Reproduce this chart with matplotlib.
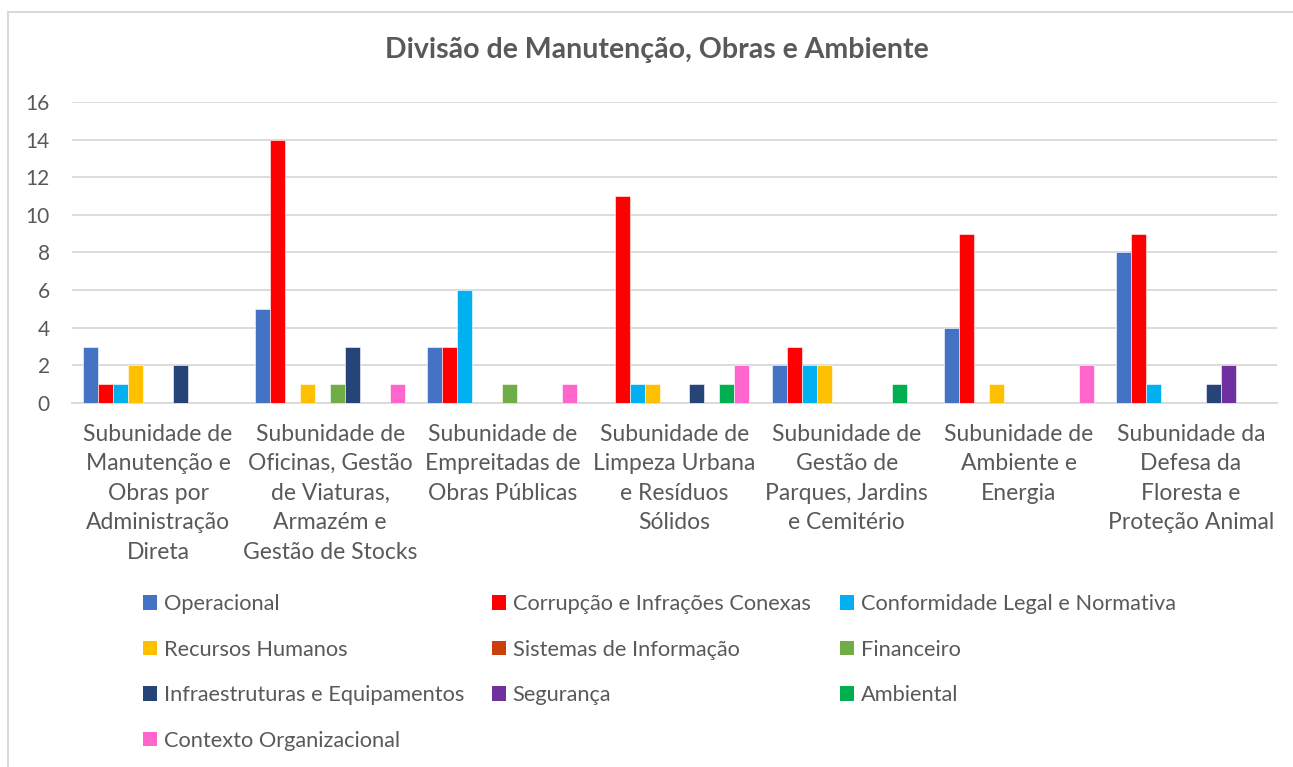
import numpy as np
import matplotlib.pyplot as plt
from matplotlib.patches import Rectangle, Patch

plt.rcParams['font.family'] = ['Lato', 'DejaVu Sans']

categories = [
    "Subunidade de\nManutenção e\nObras por\nAdministração\nDireta",
    "Subunidade de\nOficinas, Gestão\nde Viaturas,\nArmazém e\nGestão de Stocks",
    "Subunidade de\nEmpreitadas de\nObras Públicas",
    "Subunidade de\nLimpeza Urbana\ne Resíduos\nSólidos",
    "Subunidade de\nGestão de\nParques, Jardins\ne Cemitério",
    "Subunidade de\nAmbiente e\nEnergia",
    "Subunidade da\nDefesa da\nFloresta e\nProteção Animal",
]

series_names = [
    "Operacional", "Corrupção e Infrações Conexas", "Conformidade Legal e Normativa",
    "Recursos Humanos", "Sistemas de Informação", "Financeiro",
    "Infraestruturas e Equipamentos", "Segurança", "Ambiental",
    "Contexto Organizacional",
]

operacional = [3, 5, 3, 0, 2, 4, 8]
corrupcao = [1, 14, 3, 11, 3, 9, 9]
conformidade = [1, 0, 6, 1, 2, 0, 1]
recursos_humanos = [2, 1, 0, 1, 2, 1, 0]
sistemas_info = [0, 0, 0, 0, 0, 0, 0]
financeiro = [0, 1, 1, 0, 0, 0, 0]
infraestruturas = [2, 3, 0, 1, 0, 0, 1]
seguranca = [0, 0, 0, 0, 0, 0, 2]
ambiental = [0, 0, 0, 1, 1, 0, 0]
contexto = [0, 1, 1, 2, 0, 2, 0]

series = [operacional, corrupcao, conformidade, recursos_humanos, sistemas_info,
          financeiro, infraestruturas, seguranca, ambiental, contexto]

colors = ["#4472C4", "#FF0000", "#00B0F0", "#FFC000", "#C9400A",
          "#70AD47", "#264478", "#7030A0", "#00B050", "#FF66CC"]

text_color = "#595959"
grid_color = "#D9D9D9"

fig = plt.figure(figsize=(12.93, 7.67), dpi=100)
fig.patches.append(Rectangle((8 / 1293, -0.1), 1.2, (767 - 12) / 767 + 0.1,
                             transform=fig.transFigure, fill=False,
                             edgecolor=grid_color, linewidth=1.5))

ax = fig.add_axes([72 / 1293, (767 - 403) / 767, (1277 - 72) / 1293, (403 - 102) / 767])

x = np.arange(len(categories))
n = len(series)
width = 0.87 / n
for i, (vals, col) in enumerate(zip(series, colors)):
    ax.bar(x - 0.435 + width * (i + 0.5), vals, width, color=col,
           edgecolor="white", linewidth=0.4, zorder=3)

ax.set_xlim(-0.5, len(categories) - 0.5)
ax.set_ylim(0, 16)
ax.set_yticks(range(0, 17, 2))
ax.yaxis.grid(True, color=grid_color, linewidth=1.3, zorder=0)
for s in ["top", "right", "left"]:
    ax.spines[s].set_visible(False)
ax.spines["bottom"].set_color(grid_color)
ax.spines["bottom"].set_linewidth(1.3)
ax.tick_params(axis="both", length=0, colors=text_color)
ax.tick_params(axis="y", pad=16, labelsize=15)
ax.tick_params(axis="x", pad=15, labelsize=16.5)
ax.set_xticks(x)
ax.set_xticklabels(categories, linespacing=1.5, va="top")

fig.text(657 / 1293, 1 - 50 / 767, "Divisão de Manutenção, Obras e Ambiente",
         ha="center", va="center", fontsize=20.5, fontweight="bold", color=text_color)

# legend in three columns, row-major order
col_x = [143, 492, 840]
for c in range(3):
    idx = list(range(c, n, 3))
    handles = [Patch(facecolor=colors[i]) for i in idx]
    labels = [series_names[i] for i in idx]
    fig.legend(handles, labels, loc="upper left",
               bbox_to_anchor=(col_x[c] / 1293, 1 - 594 / 767),
               frameon=False, fontsize=15.7, labelcolor=text_color,
               handlelength=0.65, handleheight=0.65, handletextpad=0.3,
               labelspacing=1.17, borderpad=0, borderaxespad=0)

fig.savefig("out.png", dpi=100)
